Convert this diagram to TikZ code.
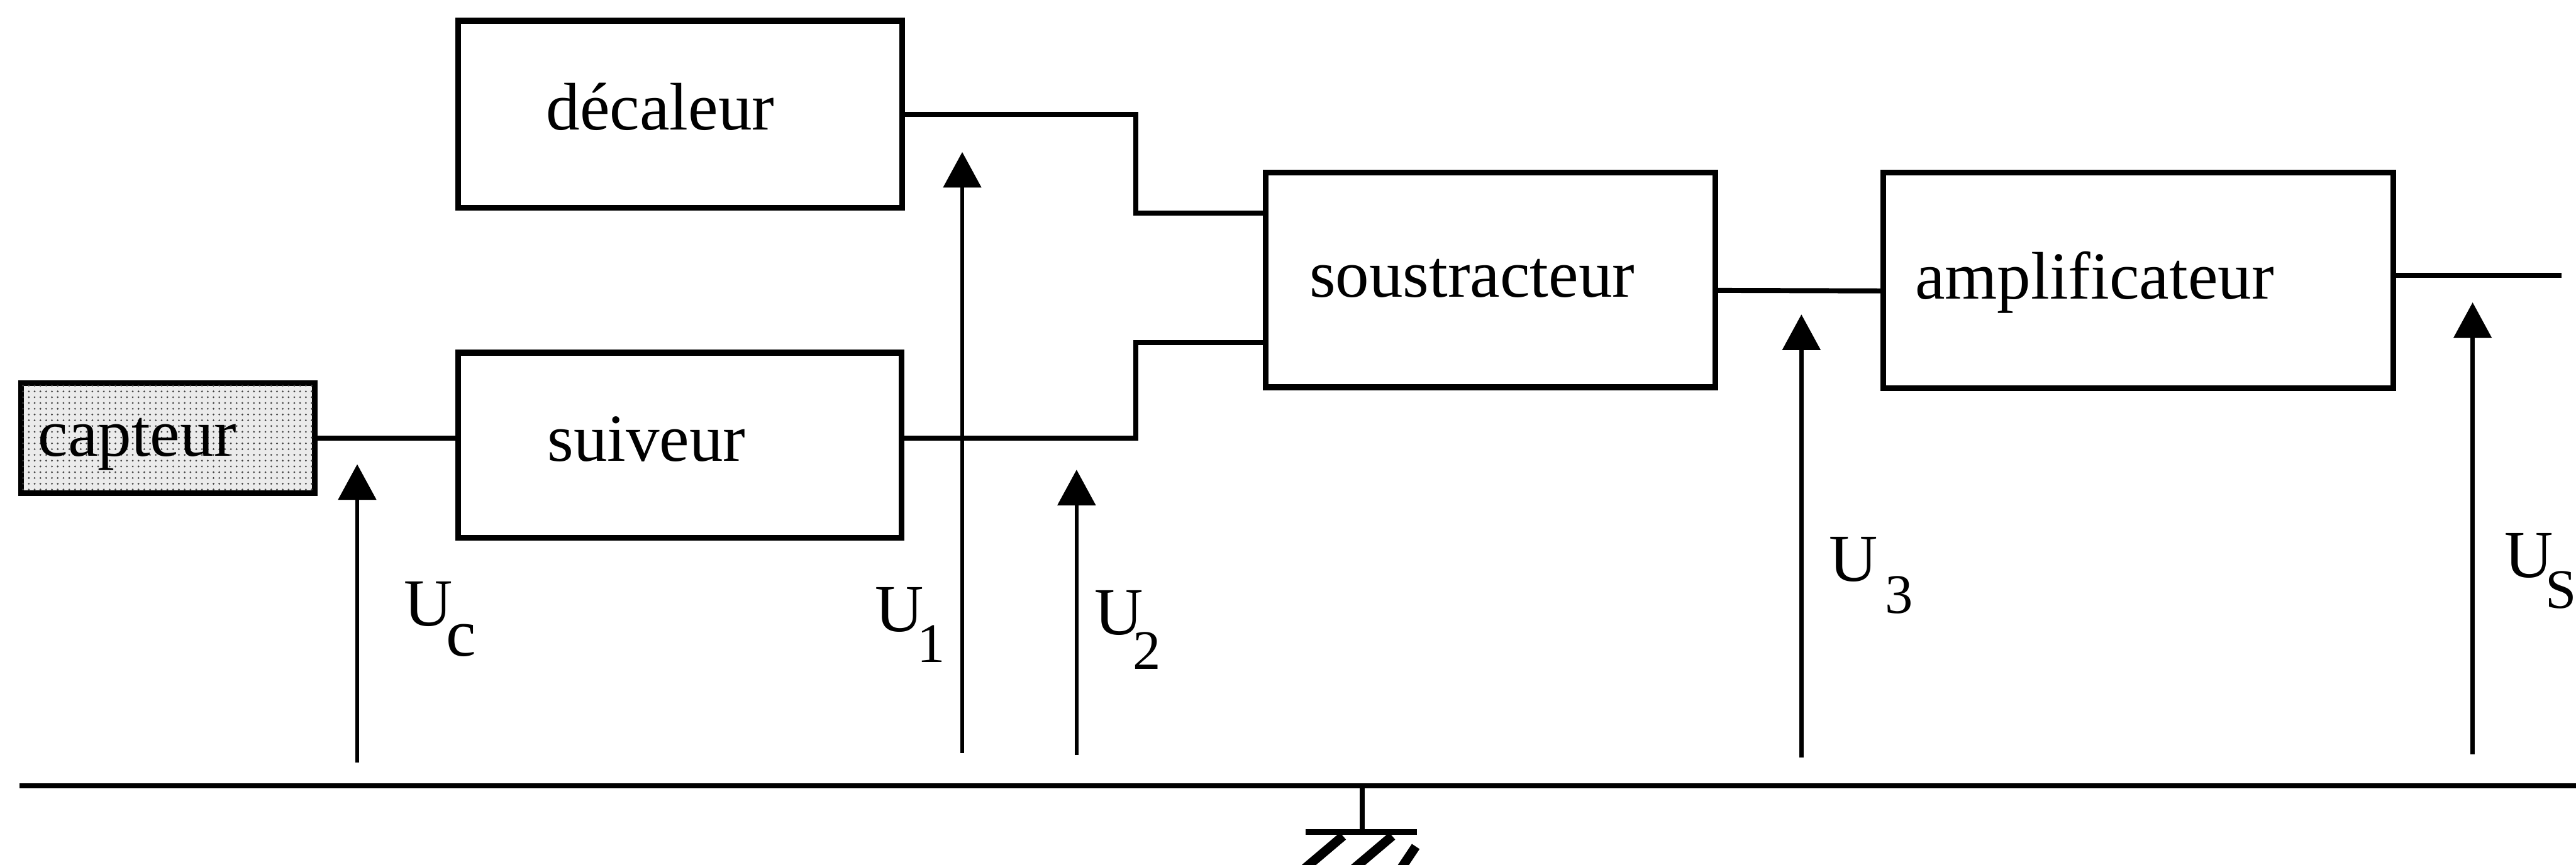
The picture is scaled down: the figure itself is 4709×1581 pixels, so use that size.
\documentclass[tikz,border=0pt]{standalone}
\usepackage{fontspec}
\setmainfont{Liberation Serif}
\usetikzlibrary{arrows.meta,patterns,calc}
\newcommand{\subtxt}[1]{{\fontsize{29}{34}\selectfont #1}}
\begin{document}
\begin{tikzpicture}[x=0.01cm,y=-0.01cm,
  box/.style={draw,line width=3pt,inner sep=0pt,outer sep=0pt},
  wire/.style={line width=2.6pt},
  varr/.style={line width=2.1pt,-{Triangle[length=18.5pt,width=19.5pt]}},
  lbl/.style={anchor=base west,inner sep=0pt,font=\fontsize{35}{40}\selectfont},
  gndline/.style={line width=2.8pt}]
\clip (0,0) rectangle (4709,1581);
% blocks
\node[box,fill=black!8,postaction={pattern=dots,pattern color=black!75},
      minimum width=5.36cm,minimum height=2.01cm] (capt) at (307,801) {};
\node[box,minimum width=8.11cm,minimum height=3.42cm] (dec) at (1243.5,209) {};
\node[box,minimum width=8.10cm,minimum height=3.38cm] (suiv) at (1243,814) {};
\node[box,minimum width=8.21cm,minimum height=3.92cm] (sous) at (2724.5,512) {};
\node[box,minimum width=9.32cm,minimum height=3.94cm] (ampl) at (3909,513) {};
% block texts
\node[lbl] (captT) at (69,834) {capteur};
\node[lbl] (decT) at (998,237) {décaleur};
\node[lbl] (suivT) at (1000,843) {suiveur};
\node[lbl] (sousT) at (2393,543) {soustracteur};
\node[lbl] (amplT) at (3500,547) {amplificateur};
% wiring
\coordinate (jA) at (2076,0);
\coordinate (out) at (4683,503);
\draw[wire] (capt.east) -- (suiv.west |- capt.east);
\draw[wire] (suiv.east |- capt.east) -- (jA |- capt.east) |- ($(sous.west)+(0,115)$);
\draw[wire] (dec.east) -- (jA |- dec.east) |- ($(sous.west)+(0,-122)$);
\draw[wire] ($(sous.east)+(0,19)$) -- ($(ampl.west)+(0,19)$);
\draw[wire] (ampl.east |- out) -- (out);
% ground rail and symbol
\coordinate (gL) at (36,1437);
\coordinate (gR) at (4709,1437);
\coordinate (gnd) at (2490,1437);
\draw[gndline] (gL) -- (gR);
\draw[gndline] (gnd) -- ++(0,85) coordinate (gbar);
\draw[line width=3pt] ($(gbar)+(-103,0)$) -- ($(gbar)+(100,0)$);
\draw[line width=4.8pt] (2455,1529) -- (2383,1590);
\draw[line width=4.8pt] (2545,1529) -- (2473,1590);
\draw[line width=4.8pt] (2588,1548) -- (2560,1590);
% voltage arrows
\coordinate (ucB) at (653,1394);  \coordinate (ucT) at (653,849);
\coordinate (u1B) at (1759,1377); \coordinate (u1T) at (1759,278);
\coordinate (u2B) at (1968,1381); \coordinate (u2T) at (1968,859);
\coordinate (u3B) at (3293,1385); \coordinate (u3T) at (3293,575);
\coordinate (usB) at (4520,1379); \coordinate (usT) at (4520,553);
\draw[varr] (ucB) -- (ucT);
\draw[varr] (u1B) -- (u1T);
\draw[varr] (u2B) -- (u2T);
\draw[varr] (u3B) -- (u3T);
\draw[varr] (usB) -- (usT);
% voltage labels
\node[lbl] (ucL) at (738,1145) {U\kern-0.12cm\raisebox{-0.55cm}{c}};
\node[lbl] (u1L) at (1599,1155) {U\kern-0.12cm\raisebox{-0.56cm}{\subtxt{1}}};
\node[lbl] (u2L) at (2000,1160) {U\kern-0.19cm\raisebox{-0.64cm}{\subtxt{2}}};
\node[lbl] (u3L) at (3343,1063) {U\kern0.14cm\raisebox{-0.58cm}{\subtxt{3}}};
\node[lbl] (usL) at (4578,1056) {U\kern-0.14cm\raisebox{-0.56cm}{\subtxt{S}}};
\end{tikzpicture}
\end{document}
